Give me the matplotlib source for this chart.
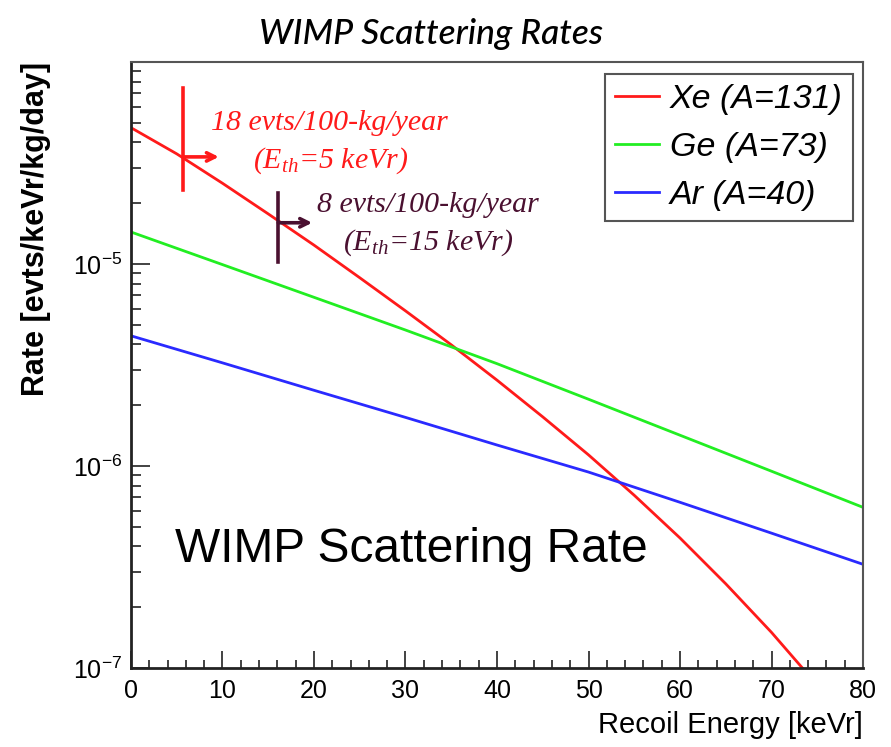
import matplotlib
matplotlib.use("Agg")
import matplotlib.pyplot as plt
from matplotlib.ticker import FixedLocator, FixedFormatter, MultipleLocator, NullFormatter

# Differential WIMP scattering rates.
energy_xe = [0, 5, 10, 15, 20, 25, 30, 35, 40, 45, 50, 55, 60, 65, 70, 75]
rate_xe = [4.73e-5, 3.51e-5, 2.51e-5, 1.77e-5, 1.24e-5, 8.55e-6, 5.86e-6,
           3.98e-6, 2.66e-6, 1.75e-6, 1.135e-6, 7.16e-7, 4.40e-7, 2.61e-7,
           1.50e-7, 8.22e-8]

energy_ge_ar = [0, 10, 20, 30, 40, 50, 60, 70, 80]
rate_ge = [1.44e-5, 9.93e-6, 6.84e-6, 4.71e-6, 3.21e-6, 2.14e-6, 1.42e-6,
           9.42e-7, 6.24e-7]
rate_ar = [4.41e-6, 3.24e-6, 2.37e-6, 1.74e-6, 1.27e-6, 9.33e-7, 6.61e-7,
           4.65e-7, 3.26e-7]

series_labels = ["Xe (A=131)", "Ge (A=73)", "Ar (A=40)"]

# Threshold markers (energy, rate at threshold, vertical bar extent, arrow end).
thresh_energy = [5.7, 16.1]
thresh_rate = [3.39e-5, 1.60e-5]
thresh_bar_lo = [2.32e-5, 1.02e-5]
thresh_bar_hi = [7.43e-5, 2.24e-5]
thresh_arrow_end = [9.6, 19.8]
thresh_lines = [("18 evts/100-kg/year", "(E$_{\\mathit{th}}$=5 keVr)"),
                ("8 evts/100-kg/year", "(E$_{\\mathit{th}}$=15 keVr)")]

y_ticks = [1e-7, 1e-6, 1e-5]
y_tick_labels = ["$\\mathregular{10^{-7}}$", "$\\mathregular{10^{-6}}$",
                 "$\\mathregular{10^{-5}}$"]

plt.rcParams["font.family"] = ["Liberation Sans", "DejaVu Sans"]
plt.rcParams["mathtext.fontset"] = "custom"
plt.rcParams["mathtext.rm"] = "Liberation Sans"
plt.rcParams["mathtext.it"] = "Liberation Serif:italic"
plt.rcParams["mathtext.bf"] = "Liberation Sans:bold"

fig = plt.figure(figsize=(8.91, 7.47), dpi=100)
ax = fig.add_axes([0.147, 0.1058, 0.8216, 0.8112])

red = "#ff1a1a"
green = "#22ee22"
blue = "#2a2aff"
maroon = "#4a1030"

ax.plot(energy_xe, rate_xe, color=red, lw=2.0, label=series_labels[0])
ax.plot(energy_ge_ar, rate_ge, color=green, lw=2.0, label=series_labels[1])
ax.plot(energy_ge_ar, rate_ar, color=blue, lw=2.0, label=series_labels[2])

# Threshold markers with arrows.
marker_colors = [red, maroon]
for i in range(len(thresh_energy)):
    c = marker_colors[i]
    ax.plot([thresh_energy[i], thresh_energy[i]],
            [thresh_bar_lo[i], thresh_bar_hi[i]], color=c, lw=2.6)
    ax.annotate("", xy=(thresh_arrow_end[i], thresh_rate[i]),
                xytext=(thresh_energy[i], thresh_rate[i]),
                arrowprops=dict(arrowstyle="->,head_length=0.6,head_width=0.3",
                                color=c, lw=2.6, shrinkA=0, shrinkB=0))

text_pos = [((0.2705, 0.8993), (0.2732, 0.8366)),
            ((0.4057, 0.7640), (0.4057, 0.7013))]
for i, (l1, l2) in enumerate(thresh_lines):
    for (tx, ty), s in zip(text_pos[i], (l1, l2)):
        ax.text(tx, ty, s, transform=ax.transAxes, ha="center", va="center",
                color=marker_colors[i], family="Liberation Serif",
                style="italic", size=21.5)

ax.set_yscale("log")
ax.set_xlim(0, 80)
ax.set_ylim(1e-7, 1e-4)

ax.xaxis.set_major_locator(MultipleLocator(10))
ax.xaxis.set_minor_locator(MultipleLocator(2))
ax.yaxis.set_major_locator(FixedLocator(y_ticks))
ax.yaxis.set_major_formatter(FixedFormatter(y_tick_labels))
ax.yaxis.set_minor_formatter(NullFormatter())

ax.tick_params(axis="x", which="major", direction="in", length=12, width=1.2,
               labelsize=18, pad=8, top=False, color="#222222")
ax.tick_params(axis="x", which="minor", direction="in", length=6, width=1.2,
               top=False, color="#222222")
ax.tick_params(axis="y", which="major", direction="in", length=14, width=1.2,
               labelsize=18, pad=6, right=False, color="#222222")
ax.tick_params(axis="y", which="minor", direction="in", length=7, width=1.2,
               right=False, color="#222222")

for side in ["left", "bottom"]:
    ax.spines[side].set_linewidth(2.0)
    ax.spines[side].set_color("#222222")
for side in ["top", "right"]:
    ax.spines[side].set_linewidth(1.5)
    ax.spines[side].set_color("#555555")

ax.set_xlabel("Recoil Energy [keVr]", fontsize=21, loc="right", labelpad=6)
ax.set_ylabel("Rate [evts/keVr/kg/day]", fontsize=22, fontweight="bold",
              loc="top", labelpad=16)

leg = ax.legend(loc="upper right", bbox_to_anchor=(0.986, 0.981),
                borderaxespad=0, fancybox=False, framealpha=1,
                prop=dict(family="Liberation Sans", style="italic", size=24.5),
                handlelength=1.3, handletextpad=0.3, labelspacing=0.5,
                borderpad=0.3)
leg.get_frame().set_edgecolor("#555555")
leg.get_frame().set_linewidth(1.5)
for line in leg.get_lines():
    line.set_linewidth(2.0)

ax.text(0.060, 0.175, "WIMP Scattering Rate", transform=ax.transAxes,
        ha="left", va="baseline", fontsize=34.5, color="black")

fig.text(0.484, 0.955, "WIMP Scattering Rates", ha="center", va="center",
         family="Lato", style="italic", fontweight="medium", fontsize=25.5)

plt.savefig("out.png", dpi=100)
plt.close()
